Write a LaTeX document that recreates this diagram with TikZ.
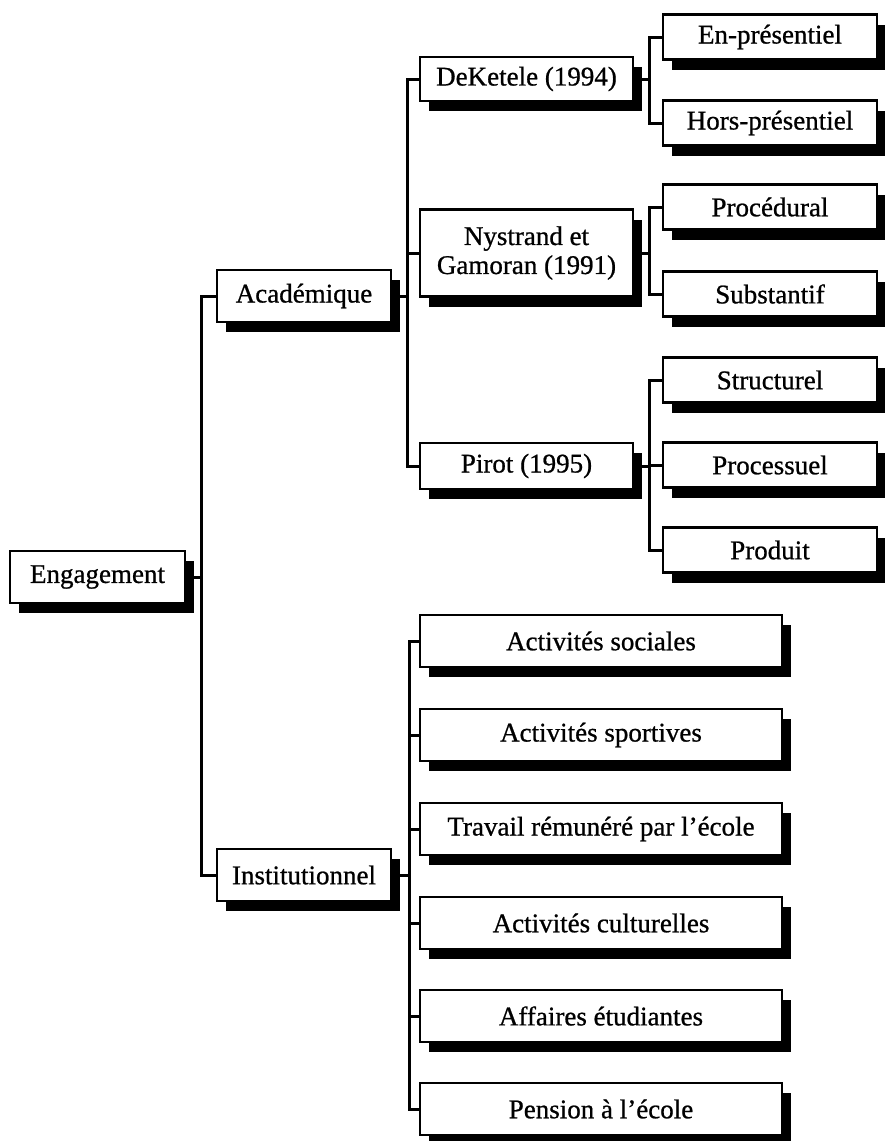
\documentclass[tikz,border=0pt]{standalone}
\usepackage{fontspec}
\setmainfont{Liberation Serif}[FakeBold=0.8]
\usetikzlibrary{shadows}

\begin{document}
\begin{tikzpicture}[x=1pt,y=-1pt,line width=3pt,
  boite/.style={draw,fill=white,line width=2.8pt,align=center,inner sep=2pt,
    font=\fontsize{27}{29}\selectfont,
    drop shadow={shadow xshift=9pt,shadow yshift=-10pt,fill=black,opacity=1}},
  niv1/.style={boite,minimum width=174pt,minimum height=52pt},
  niv2/.style={boite,minimum width=213pt,minimum height=46pt},
  niv3/.style={boite,minimum width=214pt,minimum height=45pt},
  inst/.style={boite,minimum width=362pt,minimum height=52pt}]
\useasboundingbox (0,0) rectangle (884,1141);
% Racine
  \node[niv1,minimum width=175pt] (eng) at (97.5,577) {Engagement};
% Types d'engagement
  \node[niv1] (acad) at (304,296) {Académique};
  \node[niv1] (inst) at (304,875) {Institutionnel};
% Auteurs
  \node[niv2,minimum height=44pt] (dek) at (526.5,79) {DeKetele (1994)};
  \node[niv2,minimum height=87pt] (nys) at (526.5,253) {Nystrand et\\Gamoran (1991)};
  \node[niv2] (pir) at (526.5,466) {Pirot (1995)};
% Dimensions
  \node[niv3] (enp) at (770,37) {En-présentiel};
  \node[niv3] (hors) at (770,123) {Hors-présentiel};
  \node[niv3] (proc) at (770,207) {Procédural};
  \node[niv3] (subs) at (770,294) {Substantif};
  \node[niv3] (stru) at (770,380) {Structurel};
  \node[niv3] (pces) at (770,465) {Processuel};
  \node[niv3] (prod) at (770,550) {Produit};
% Institutionnel
  \node[inst] (soc) at (601,641) {Activités sociales};
  \node[inst] (spo) at (601,735) {Activités sportives};
  \node[inst] (trav) at (601,829) {Travail rémunéré par l’école};
  \node[inst] (cult) at (601,923) {Activités culturelles};
  \node[inst] (aff) at (601,1016) {Affaires étudiantes};
  \node[inst] (pens) at (601,1109) {Pension à l’école};
%
% Liens
  \draw (eng.east) -- ++(15,0) coordinate (t0);
  \draw (acad.west) -| (t0);
  \draw (inst.west) -| (t0);
%
  \draw (acad.east) -- ++(15,0) coordinate (t1);
  \draw (dek.west) -| (t1);
  \draw (nys.west) -| (t1);
  \draw (pir.west) -| (t1);
%
  \draw (dek.east) -- ++(15,0) coordinate (t2);
  \draw (enp.west) -| (t2);
  \draw (hors.west) -| (t2);
  \draw (nys.east) -- ++(15,0) coordinate (t3);
  \draw (proc.west) -| (t3);
  \draw (subs.west) -| (t3);
  \draw (pir.east) -- ++(15,0) coordinate (t4);
  \draw (stru.west) -| (t4);
  \draw (pces.west) -| (t4);
  \draw (prod.west) -| (t4);
%
  \draw (inst.east) -- ++(17,0) coordinate (t5);
  \draw (soc.west) -| (t5);
  \draw (spo.west) -| (t5);
  \draw (trav.west) -| (t5);
  \draw (cult.west) -| (t5);
  \draw (aff.west) -| (t5);
  \draw (pens.west) -| (t5);
\end{tikzpicture}
\end{document}
